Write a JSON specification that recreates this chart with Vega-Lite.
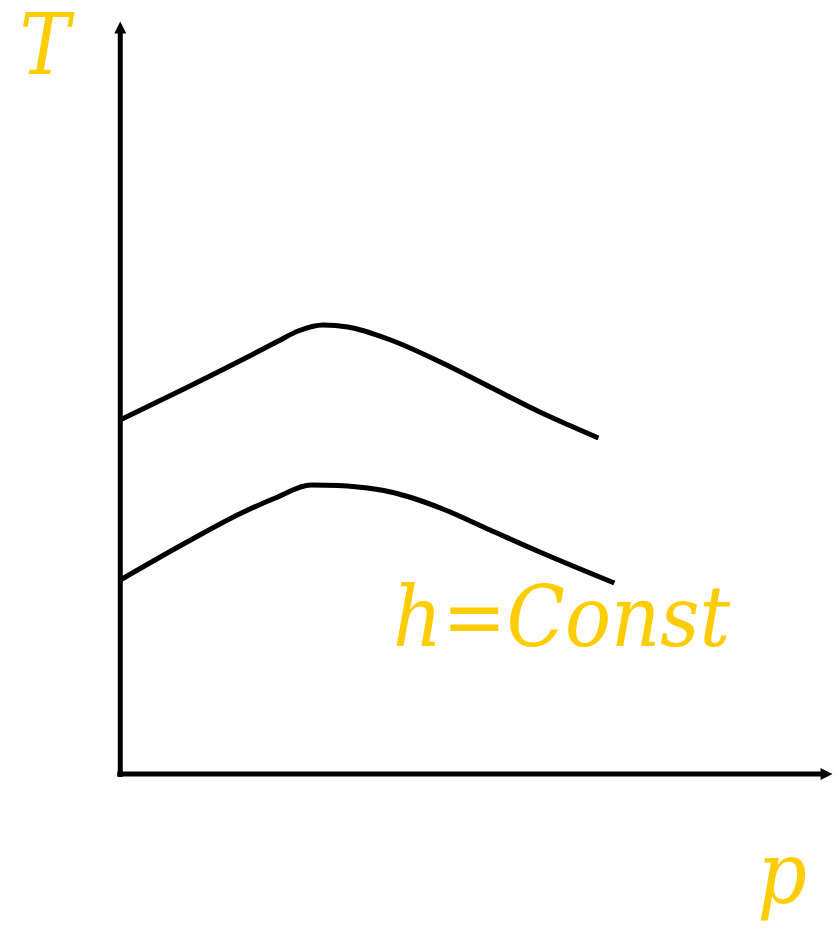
{
  "$schema": "https://vega.github.io/schema/vega-lite/v6.json",
  "width": 837,
  "height": 930,
  "autosize": {"type": "fit", "contains": "padding"},
  "padding": 0,
  "background": "white",
  "config": {"view": {"stroke": null}},
  "datasets": {
    "axes": [
      {"axis": "T", "i": 0, "p": 121, "T": 153},
      {"axis": "T", "i": 1, "p": 121, "T": 900},
      {"axis": "p", "i": 0, "p": 118, "T": 156},
      {"axis": "p", "i": 1, "p": 832, "T": 156}
    ],
    "arrows": [
      {"dir": "up", "p": 121, "T": 902.5},
      {"dir": "right", "p": 831.5, "T": 156}
    ],
    "curves": [
      {"curve": "upper", "i": 0, "p": 121, "T": 510},
      {"curve": "upper", "i": 1, "p": 187, "T": 542},
      {"curve": "upper", "i": 2, "p": 253, "T": 575},
      {"curve": "upper", "i": 3, "p": 280, "T": 589},
      {"curve": "upper", "i": 4, "p": 300, "T": 599},
      {"curve": "upper", "i": 5, "p": 325, "T": 605},
      {"curve": "upper", "i": 6, "p": 350, "T": 603},
      {"curve": "upper", "i": 7, "p": 393, "T": 590},
      {"curve": "upper", "i": 8, "p": 443, "T": 568},
      {"curve": "upper", "i": 9, "p": 493, "T": 543},
      {"curve": "upper", "i": 10, "p": 543, "T": 518},
      {"curve": "upper", "i": 11, "p": 572, "T": 505},
      {"curve": "upper", "i": 12, "p": 602, "T": 492},
      {"curve": "lower", "i": 0, "p": 121, "T": 350},
      {"curve": "lower", "i": 1, "p": 190, "T": 389},
      {"curve": "lower", "i": 2, "p": 243, "T": 417},
      {"curve": "lower", "i": 3, "p": 277, "T": 432},
      {"curve": "lower", "i": 4, "p": 313, "T": 445},
      {"curve": "lower", "i": 5, "p": 340, "T": 444.5},
      {"curve": "lower", "i": 6, "p": 360, "T": 443},
      {"curve": "lower", "i": 7, "p": 393, "T": 438},
      {"curve": "lower", "i": 8, "p": 418, "T": 431},
      {"curve": "lower", "i": 9, "p": 443, "T": 422},
      {"curve": "lower", "i": 10, "p": 493, "T": 400},
      {"curve": "lower", "i": 11, "p": 543, "T": 378},
      {"curve": "lower", "i": 12, "p": 618, "T": 347}
    ],
    "labels": [
      {"label": "T", "p": 45, "T": 856},
      {"label": "h=Const", "p": 565, "T": 284},
      {"label": "p", "p": 787, "T": 27}
    ]
  },
  "layer": [
    {
      "data": {"name": "axes"},
      "mark": {"type": "line", "color": "black", "strokeWidth": 5, "strokeCap": "butt"},
      "encoding": {
        "x": {"field": "p", "type": "quantitative", "scale": {"domain": [0, 837], "nice": false, "zero": false}, "axis": null},
        "y": {"field": "T", "type": "quantitative", "scale": {"domain": [0, 930], "nice": false, "zero": false}, "axis": null},
        "detail": {"field": "axis"},
        "order": {"field": "i"}
      }
    },
    {
      "data": {"name": "curves"},
      "mark": {"type": "line", "color": "black", "strokeWidth": 5, "interpolate": "monotone", "strokeCap": "butt"},
      "encoding": {
        "x": {"field": "p", "type": "quantitative"},
        "y": {"field": "T", "type": "quantitative"},
        "detail": {"field": "curve"},
        "order": {"field": "i"}
      }
    },
    {
      "data": {"name": "arrows"},
      "transform": [{"filter": "datum.dir === 'up'"}],
      "mark": {"type": "point", "filled": true, "color": "black", "opacity": 1, "shape": "M-1,1L0,-1L1,1Z", "size": 144},
      "encoding": {
        "x": {"field": "p", "type": "quantitative"},
        "y": {"field": "T", "type": "quantitative"}
      }
    },
    {
      "data": {"name": "arrows"},
      "transform": [{"filter": "datum.dir === 'right'"}],
      "mark": {"type": "point", "filled": true, "color": "black", "opacity": 1, "shape": "M-1,-1L1,0L-1,1Z", "size": 144},
      "encoding": {
        "x": {"field": "p", "type": "quantitative"},
        "y": {"field": "T", "type": "quantitative"}
      }
    },
    {
      "data": {"name": "labels"},
      "mark": {"type": "text", "font": "DejaVu Serif Condensed, DejaVu Serif", "fontStyle": "italic", "color": "#FFCC00", "align": "center", "baseline": "alphabetic"},
      "encoding": {
        "x": {"field": "p", "type": "quantitative"},
        "y": {"field": "T", "type": "quantitative"},
        "text": {"field": "label"},
        "size": {"field": "label", "type": "nominal", "scale": {"domain": ["T", "h=Const", "p"], "range": [84, 86, 74]}, "legend": null}
      }
    }
  ]
}
